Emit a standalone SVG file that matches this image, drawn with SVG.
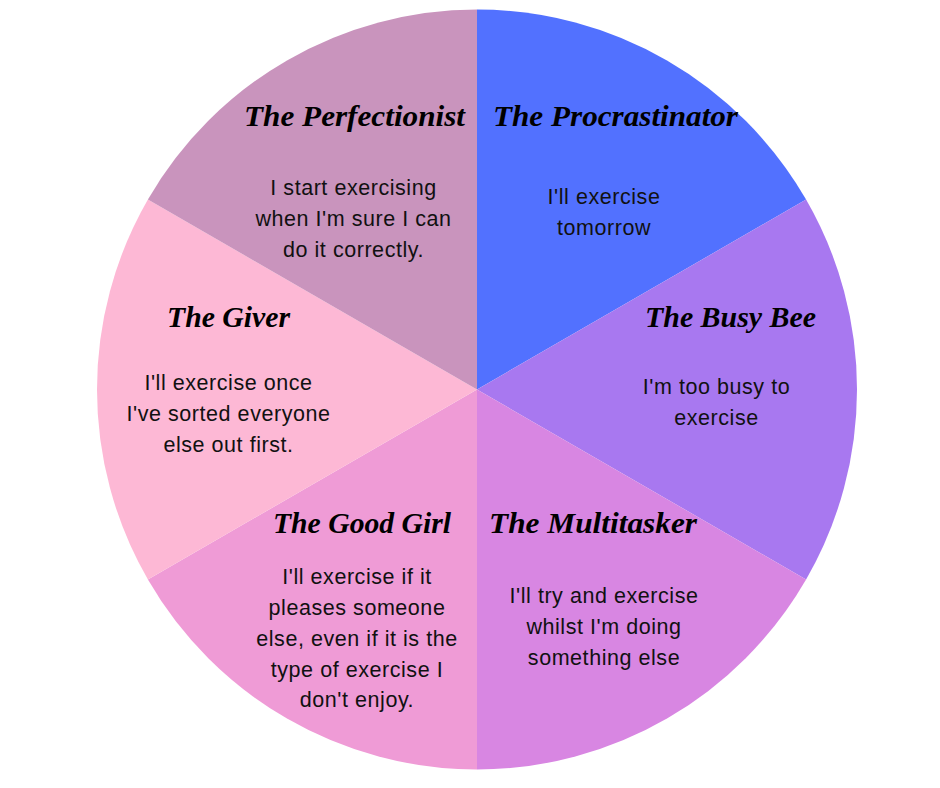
<svg xmlns="http://www.w3.org/2000/svg" width="940" height="788" viewBox="0 0 940 788">
<style>
.title{font-family:"Liberation Serif","DejaVu Serif",serif;font-style:italic;font-weight:bold;font-size:30px;fill:#000;text-anchor:middle}
.body{font-family:"Liberation Sans",Arial,sans-serif;font-size:21.5px;letter-spacing:0.55px;fill:#111;text-anchor:middle}
</style>
<rect width="940" height="788" fill="#ffffff"/>
<g id="procrastinator">
<path d="M477,389.5 L477,9.5 A380,380 0 0 1 806.09,199.5 Z" fill="#5271FF"/>
<text class="title" x="615.5" y="126" textLength="245" lengthAdjust="spacingAndGlyphs">The Procrastinator</text>
<text class="body" x="604" y="204">I'll exercise</text>
<text class="body" x="604" y="235">tomorrow</text>
</g>
<g id="busybee">
<path d="M477,389.5 L806.09,199.5 A380,380 0 0 1 806.09,579.5 Z" fill="#A878F0"/>
<text class="title" x="730.5" y="327" textLength="171" lengthAdjust="spacingAndGlyphs">The Busy Bee</text>
<text class="body" x="716.5" y="394">I'm too busy to</text>
<text class="body" x="716.5" y="425">exercise</text>
</g>
<g id="multitasker">
<path d="M477,389.5 L806.09,579.5 A380,380 0 0 1 477,769.5 Z" fill="#D886E2"/>
<text class="title" x="593" y="533" textLength="208" lengthAdjust="spacingAndGlyphs">The Multitasker</text>
<text class="body" x="604" y="603">I'll try and exercise</text>
<text class="body" x="604" y="634">whilst I'm doing</text>
<text class="body" x="604" y="665">something else</text>
</g>
<g id="goodgirl">
<path d="M477,389.5 L477,769.5 A380,380 0 0 1 147.91,579.5 Z" fill="#EF9BD6"/>
<text class="title" x="362" y="533" textLength="178" lengthAdjust="spacingAndGlyphs">The Good Girl</text>
<text class="body" x="357" y="584">I'll exercise if it</text>
<text class="body" x="357" y="615">pleases someone</text>
<text class="body" x="357" y="646">else, even if it is the</text>
<text class="body" x="357" y="677">type of exercise I</text>
<text class="body" x="357" y="707">don't enjoy.</text>
</g>
<g id="giver">
<path d="M477,389.5 L147.91,579.5 A380,380 0 0 1 147.91,199.5 Z" fill="#FDB8D5"/>
<text class="title" x="228.5" y="327" textLength="123" lengthAdjust="spacingAndGlyphs">The Giver</text>
<text class="body" x="228.5" y="390">I'll exercise once</text>
<text class="body" x="228.5" y="421">I've sorted everyone</text>
<text class="body" x="228.5" y="452">else out first.</text>
</g>
<g id="perfectionist">
<path d="M477,389.5 L147.91,199.5 A380,380 0 0 1 477,9.5 Z" fill="#C994BD"/>
<text class="title" x="354.5" y="126" textLength="221" lengthAdjust="spacingAndGlyphs">The Perfectionist</text>
<text class="body" x="353.5" y="195">I start exercising</text>
<text class="body" x="353.5" y="226">when I'm sure I can</text>
<text class="body" x="353.5" y="257">do it correctly.</text>
</g>
<g id="connectors"/>
</svg>
